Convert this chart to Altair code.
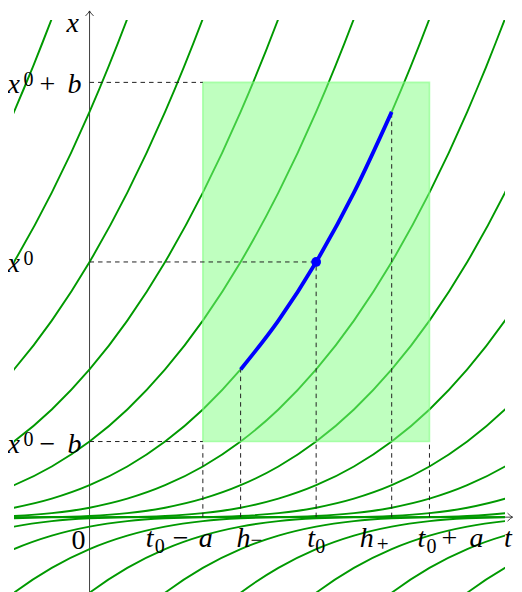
import altair as alt
import pandas as pd

# ---- values (units: cm of the original figure) ----
t0, a = 6, 3
x0, b = 6.75, 4.75
h_minus, h_plus = 4, 8

# t where each green solution curve touches the t-axis
crossings = [-16, -14, -12, -10, -8, -6, -4, -2, 0, 2, 4, 6, 8, 10, 12, 14, 16, 18]
# shape of one green curve, read at unit steps of s = t - crossing
profile_s = list(range(-9, 17))
profile_x = [-2.848, -2.0, -1.340, -0.844, -0.488, -0.25, -0.105, -0.031, -0.004, 0.0,
             0.004, 0.031, 0.105, 0.25, 0.488, 0.844, 1.340, 2.0, 2.848, 3.906,
             5.199, 6.75, 8.582, 10.719, 13.184, 16.0]

# blue solution piece on [h-, h+]
blue_t = [4, 5, 6, 7, 8]
blue_x = [3.906, 5.199, 6.75, 8.582, 10.719]

T_DOMAIN = [-2, 11]
X_DOMAIN = [-1.98, 13.15]
t_axis_range = [-2, 11.2]
x_axis_range = [-1.98, 13.39]

# ---- label layout: (text, italic?, size, anchor_t, anchor_x, dx, dy) ----
MAIN, SCRIPT, SCRIPT_OP = 28, 20, 21
label_parts = [
    # x0 + b
    ("x", True, MAIN, 0, x0 + b, -82, 11), ("0", False, SCRIPT, 0, x0 + b, -66, 4),
    ("+", False, MAIN, 0, x0 + b, -50, 11), ("b", True, MAIN, 0, x0 + b, -22, 11),
    # x0
    ("x", True, MAIN, 0, x0, -82, 10), ("0", False, SCRIPT, 0, x0, -66, 3),
    # x0 - b
    ("x", True, MAIN, 0, x0 - b, -82, 11), ("0", False, SCRIPT, 0, x0 - b, -66, 4),
    ("\u2212", False, MAIN, 0, x0 - b, -50, 11), ("b", True, MAIN, 0, x0 - b, -22, 11),
    # t0 - a
    ("t", True, MAIN, t0 - a, 0, -57, 30), ("0", False, SCRIPT, t0 - a, 0, -48, 36),
    ("\u2212", False, MAIN, t0 - a, 0, -30, 30), ("a", True, MAIN, t0 - a, 0, -4, 30),
    # h-
    ("h", True, MAIN, h_minus, 0, -4, 30), ("\u2212", False, SCRIPT_OP, h_minus, 0, 10, 30),
    # t0
    ("t", True, MAIN, t0, 0, -9, 30), ("0", False, SCRIPT, t0, 0, -1, 36),
    # h+
    ("h", True, MAIN, h_plus, 0, -32, 30), ("+", False, SCRIPT_OP, h_plus, 0, -15, 34),
    # t0 + a
    ("t", True, MAIN, t0 + a, 0, -12, 30), ("0", False, SCRIPT, t0 + a, 0, -3, 36),
    ("+", False, MAIN, t0 + a, 0, 12, 30), ("a", True, MAIN, t0 + a, 0, 40, 30),
    # origin and axis names
    ("0", False, MAIN, 0, 0, -18, 32),
    ("t", True, MAIN, 11, 0, -1, 30),
    ("x", True, MAIN, 0, X_DOMAIN[1], -23, 12),
]

# ---- styling ----
FONT = "Liberation Serif"
GREEN = "#009900"
ARROW = "M -1 -0.8 Q -0.35 -0.15 0 0 Q -0.35 0.15 -1 0.8"

tscale = alt.Scale(domain=T_DOMAIN, nice=False, zero=False)
xscale = alt.Scale(domain=X_DOMAIN, nice=False, zero=False)


def X(f="t"):
    return alt.X(f"{f}:Q", scale=tscale, axis=None)


def Y(f="x"):
    return alt.Y(f"{f}:Q", scale=xscale, axis=None)


# ---- tables ----
curves = pd.DataFrame([
    {"c": c, "t": c + s, "x": xv}
    for c in crossings for s, xv in zip(profile_s, profile_x)
])
blue = pd.DataFrame({"t": blue_t, "x": blue_x})
axes_df = pd.DataFrame([
    {"t": t_axis_range[0], "x": 0, "t2": t_axis_range[1], "x2": 0},
    {"t": 0, "x": x_axis_range[0], "t2": 0, "x2": x_axis_range[1]},
])
rect_df = pd.DataFrame([{"t": t0 - a, "t2": t0 + a, "x": x0 - b, "x2": x0 + b}])
dash_df = pd.DataFrame([
    {"t": 0, "x": x0 + b, "t2": t0 - a, "x2": x0 + b},
    {"t": 0, "x": x0, "t2": t0, "x2": x0},
    {"t": 0, "x": x0 - b, "t2": t0 - a, "x2": x0 - b},
    {"t": t0 - a, "x": 0, "t2": t0 - a, "x2": x0 - b},
    {"t": h_minus, "x": 0, "t2": h_minus, "x2": blue_x[0]},
    {"t": t0, "x": 0, "t2": t0, "x2": x0},
    {"t": h_plus, "x": 0, "t2": h_plus, "x2": blue_x[-1]},
    {"t": t0 + a, "x": 0, "t2": t0 + a, "x2": x0 - b},
])

layers = []
layers.append(alt.Chart(axes_df).mark_rule(color="#111", strokeWidth=0.8).encode(
    x=X(), y=Y(), x2=alt.X2("t2"), y2=alt.Y2("x2")))
layers.append(alt.Chart(pd.DataFrame({"t": [t_axis_range[1]], "x": [0]})).mark_point(
    shape=ARROW, size=100, filled=False, color="#111", strokeWidth=0.8, opacity=1).encode(x=X(), y=Y()))
layers.append(alt.Chart(pd.DataFrame({"t": [0], "x": [x_axis_range[1]]})).mark_point(
    shape=ARROW, size=100, filled=False, color="#111", strokeWidth=0.8, opacity=1, angle=270).encode(x=X(), y=Y()))
layers.append(alt.Chart(curves).mark_line(color=GREEN, strokeWidth=1.9, interpolate="monotone", clip=True).encode(
    x=X(), y=Y(), detail="c:N"))
layers.append(alt.Chart(rect_df).mark_rect(fill="#80ff80", fillOpacity=0.5, stroke="#80ff80",
                                           strokeOpacity=0.6, strokeWidth=1.6).encode(
    x=X(), x2=alt.X2("t2"), y=Y(), y2=alt.Y2("x2")))
layers.append(alt.Chart(dash_df).mark_rule(color="#222", strokeWidth=1.0, strokeDash=[4.5, 4]).encode(
    x=X(), y=Y(), x2=alt.X2("t2"), y2=alt.Y2("x2")))
layers.append(alt.Chart(blue).mark_line(color="#0000ff", strokeWidth=3.8, interpolate="monotone").encode(
    x=X(), y=Y()))
layers.append(alt.Chart(pd.DataFrame({"t": [t0], "x": [x0]})).mark_circle(color="#0000ff", size=95, opacity=1).encode(
    x=X(), y=Y()))

for txt, ital, fs, at, ax, dx, dy in label_parts:
    layers.append(alt.Chart(pd.DataFrame({"t": [at], "x": [ax], "lab": [txt]})).mark_text(
        align="left", baseline="alphabetic", dx=dx, dy=dy, font=FONT,
        fontSize=fs, fontStyle="italic" if ital else "normal",
        color="#000").encode(x=X(), y=Y(), text="lab:N"))

chart = alt.layer(*layers).properties(
    width=491, height=572,
    padding={"left": 6, "top": 12, "right": 9, "bottom": 0},
    autosize=alt.AutoSizeParams(type="none"),
).configure_view(stroke=None)

chart.save("out.html", embed_options={"renderer": "svg", "actions": False})
